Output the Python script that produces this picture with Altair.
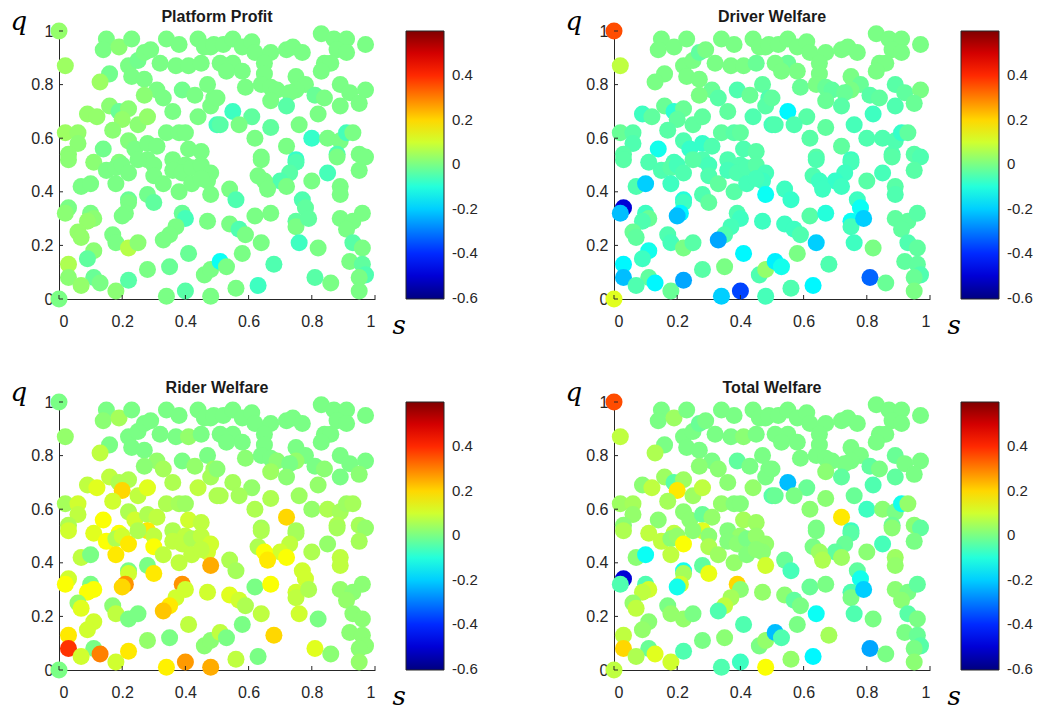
import altair as alt
import pandas as pd

s_vals = [
    0.00, 0.02, 0.15, 0.14, 0.19, 0.23, 0.16, 0.13, 0.22, 0.25,
    0.27, 0.29, 0.34, 0.38, 0.44, 0.48, 0.32, 0.37, 0.41, 0.45,
    0.23, 0.27, 0.31, 0.33, 0.27, 0.39, 0.43, 0.47, 0.49, 0.36,
    0.44, 0.48, 0.50, 0.09, 0.12, 0.16, 0.19, 0.22, 0.20, 0.17,
    0.25, 0.28, 0.02, 0.06, 0.06, 0.03, 0.14, 0.22, 0.24, 0.28,
    0.31, 0.34, 0.38, 0.40, 0.41, 0.45, 0.11, 0.19, 0.28, 0.30,
    0.36, 0.40, 0.83, 0.87, 0.91, 0.97, 0.88, 0.91, 0.46, 0.49,
    0.52, 0.55, 0.58, 0.61, 0.62, 0.67, 0.72, 0.74, 0.77, 0.65,
    0.65, 0.84, 0.86, 0.83, 0.55, 0.58, 0.51, 0.53, 0.59, 0.64,
    0.67, 0.69, 0.75, 0.78, 0.81, 0.75, 0.73, 0.84, 0.89, 0.92,
    0.97, 0.95, 0.89, 0.67, 0.72, 0.50, 0.55, 0.61, 0.51, 0.57,
    0.67, 0.76, 0.82, 0.62, 0.72, 0.80, 0.85, 0.89, 0.91, 0.93,
    0.64, 0.75, 0.88, 0.95, 0.97,
    0.03, 0.15, 0.18, 0.20, 0.22, 0.18, 0.25, 0.30, 0.33, 0.36,
    0.39, 0.42, 0.45, 0.48, 0.38, 0.42, 0.47, 0.48, 0.07, 0.10,
    0.03, 0.02, 0.10, 0.11, 0.09, 0.22, 0.22, 0.28, 0.30, 0.21,
    0.20, 0.39, 0.40, 0.47, 0.37, 0.35, 0.33, 0.06, 0.07, 0.17,
    0.18, 0.22, 0.25, 0.11, 0.09, 0.03, 0.41, 0.03, 0.11, 0.13,
    0.07, 0.18, 0.22, 0.28, 0.35, 0.34, 0.40, 0.46, 0.48, 0.48,
    0.00, 0.64, 0.75, 0.73, 0.70, 0.88,
    0.95, 0.85,
    0.45, 0.63, 0.65, 0.66, 0.72, 0.80, 0.89, 0.89, 0.54, 0.56, 0.77, 0.78,
    0.54, 0.57, 0.59, 0.62, 0.67, 0.75, 0.75, 0.79, 0.76, 0.64,
    0.82, 0.89, 0.93, 0.96, 0.91, 0.93, 0.96, 0.58, 0.51, 0.53,
    0.68, 0.92, 0.96, 0.97, 0.95, 0.95, 0.81, 0.86, 0.56, 0.63,
]

q_vals = [
    1.00, 0.87, 0.97, 0.93, 0.94, 0.97, 0.84, 0.81, 0.87, 0.89,
    0.92, 0.93, 0.97, 0.95, 0.97, 0.94, 0.88, 0.87, 0.87, 0.88,
    0.83, 0.82, 0.78, 0.75, 0.76, 0.78, 0.76, 0.80, 0.75, 0.70,
    0.68, 0.72, 0.65, 0.69, 0.68, 0.72, 0.70, 0.71, 0.67, 0.63,
    0.65, 0.68, 0.62, 0.62, 0.58, 0.54, 0.56, 0.59, 0.56, 0.58,
    0.57, 0.62, 0.62, 0.62, 0.56, 0.55, 0.51, 0.51, 0.52, 0.50,
    0.52, 0.50, 0.99, 0.97, 0.97, 0.95, 0.93, 0.92, 0.94, 0.95,
    0.95, 0.97, 0.94, 0.96, 0.92, 0.92, 0.93, 0.94, 0.92, 0.88,
    0.84, 0.88, 0.88, 0.85, 0.88, 0.85, 0.88, 0.85, 0.79, 0.80,
    0.79, 0.78, 0.83, 0.80, 0.76, 0.78, 0.77, 0.75, 0.80, 0.77,
    0.78, 0.73, 0.72, 0.74, 0.72, 0.75, 0.70, 0.68, 0.65, 0.65,
    0.64, 0.65, 0.69, 0.60, 0.57, 0.60, 0.60, 0.59, 0.62, 0.62,
    0.53, 0.52, 0.54, 0.54, 0.53,
    0.52, 0.48, 0.49, 0.50, 0.47, 0.43, 0.52, 0.46, 0.43, 0.48,
    0.47, 0.49, 0.50, 0.47, 0.40, 0.43, 0.44, 0.39, 0.42, 0.43,
    0.34, 0.32, 0.32, 0.30, 0.29, 0.37, 0.36, 0.39, 0.36, 0.32,
    0.31, 0.32, 0.30, 0.29, 0.27, 0.24, 0.22, 0.25, 0.23, 0.24,
    0.21, 0.19, 0.21, 0.18, 0.15, 0.13, 0.17, 0.08, 0.08, 0.06,
    0.05, 0.03, 0.07, 0.11, 0.12, 0.01, 0.03, 0.09, 0.11, 0.01,
    0.00, 0.52, 0.51, 0.47, 0.44, 0.53,
    0.48, 0.47,
    0.45, 0.46, 0.44, 0.41, 0.42, 0.44, 0.42, 0.39, 0.41, 0.37, 0.37, 0.34,
    0.28, 0.26, 0.24, 0.31, 0.32, 0.29, 0.27, 0.30, 0.21, 0.21,
    0.19, 0.30, 0.29, 0.32, 0.26, 0.21, 0.19, 0.17, 0.14, 0.12,
    0.13, 0.14, 0.13, 0.09, 0.08, 0.03, 0.08, 0.06, 0.04, 0.05,
]

platform_profit = [
    0.03, 0.04, 0, 0, 0.02, 0, -0.01, 0.04, 0, -0.01,
    0, 0, 0, 0, 0, 0, 0, 0, 0, 0,
    0, 0, 0, 0, 0.02, -0.01, 0, 0, 0, 0,
    0, 0, -0.06, 0.03, 0.03, 0.02, -0.02, 0.02, 0.03, 0.02,
    0.02, 0.03, 0.04, 0.03, 0.02, 0.02, -0.01, 0.01, 0, 0,
    0, 0, 0, 0, 0, 0, 0.02, 0.01, 0, 0,
    0, 0, 0, 0, 0, 0, 0, 0, 0, 0,
    0, 0, 0, 0, 0, 0, 0, 0, 0, 0,
    0, 0, 0, 0, 0, 0, 0, 0, 0, 0,
    0, 0, 0, 0, -0.02, 0, 0, 0, 0, 0,
    0, 0, 0, 0, -0.04, 0, -0.07, -0.03, -0.04, 0,
    -0.03, 0, 0, 0, 0, -0.08, 0, 0, -0.06, 0,
    0, -0.08, -0.05, 0, 0,
    0.02, 0, 0, 0, 0, 0, 0, 0, 0, 0,
    0, 0, 0, 0, 0, 0, 0, 0, 0, 0,
    0, 0.02, 0, 0.02, 0.03, -0.02, 0, -0.01, -0.03, 0,
    0, -0.02, -0.06, 0, 0, 0, 0, 0.03, 0.03, 0,
    0, 0.07, 0.02, 0.02, -0.03, 0.06, -0.02, 0.02, -0.02, 0,
    0.03, 0.02, -0.04, 0, -0.02, 0, -0.04, 0, 0, 0,
    0, 0, -0.05, -0.04, -0.05, 0,
    0, -0.06,
    0, 0, 0, 0, 0, 0, 0, 0, 0, -0.05, -0.05, -0.03,
    0, -0.05, 0, 0, 0, -0.03, 0, -0.03, -0.07, 0,
    0, 0, 0, 0, 0, -0.04, 0, 0, -0.13, 0,
    -0.05, 0, -0.03, -0.05, 0, 0, -0.04, 0, 0, -0.07,
]

driver_welfare = [
    0.36, 0.08, 0, 0, 0, 0, 0, 0, 0, 0,
    -0.03, 0, 0, 0, 0, 0, 0, 0, 0, -0.02,
    0, 0, -0.02, -0.04, 0, -0.05, -0.02, -0.03, -0.05, -0.03,
    -0.05, -0.04, -0.06, -0.07, -0.03, -0.02, -0.09, -0.02, -0.03, -0.04,
    -0.03, -0.03, -0.02, -0.04, -0.05, -0.04, -0.12, -0.05, -0.08, -0.08,
    -0.05, -0.03, -0.04, -0.03, -0.05, -0.04, -0.05, -0.06, -0.05, -0.06,
    -0.05, -0.05, 0, 0, 0, 0, 0, 0, 0, 0,
    0, 0, 0, 0, 0, 0, 0, 0, 0, 0,
    0, 0, 0, 0, -0.02, 0, 0, 0, -0.02, 0,
    -0.02, -0.03, 0, -0.02, -0.04, 0, -0.02, -0.03, -0.04, -0.03,
    0, -0.02, -0.05, -0.02, -0.04, -0.03, -0.15, -0.04, -0.05, -0.05,
    -0.03, -0.06, -0.07, -0.04, -0.03, -0.05, -0.05, -0.05, -0.08, -0.03,
    -0.04, -0.07, -0.05, -0.04, -0.05,
    -0.04, -0.05, -0.04, -0.06, -0.05, -0.07, -0.04, -0.05, -0.03, -0.06,
    -0.05, -0.05, -0.04, -0.06, -0.04, -0.06, -0.07, -0.13, -0.05, -0.2,
    -0.5, -0.22, -0.07, -0.02, -0.05, -0.1, -0.07, -0.05, -0.03, -0.15,
    -0.22, -0.05, -0.07, -0.07, -0.06, -0.05, -0.25, -0.02, -0.03, -0.05,
    -0.06, 0, -0.04, -0.12, -0.07, -0.15, -0.15, -0.22, -0.03, -0.15,
    -0.05, -0.02, -0.25, -0.04, 0, -0.2, -0.37, -0.05, 0.03, -0.06,
    0.12, -0.05, -0.06, -0.07, -0.08, -0.04,
    -0.04, -0.06,
    -0.06, -0.05, -0.07, -0.07, -0.07, -0.04, -0.04, -0.05, -0.07, -0.08, -0.07, -0.13,
    -0.07, -0.07, -0.05, -0.04, -0.1, -0.13, -0.06, -0.2, -0.07, -0.2,
    0, -0.03, -0.03, -0.04, -0.03, -0.05, -0.03, 0, -0.16, -0.12,
    -0.05, -0.03, -0.03, -0.05, -0.02, 0, -0.33, -0.02, -0.05, -0.15,
]

rider_welfare = [
    0, 0.03, 0, 0.02, 0.05, 0, 0, 0.08, 0, 0,
    0, 0, 0, 0, 0, 0, 0, 0, 0.03, 0,
    0, 0, 0.03, 0.05, 0.02, 0, 0.03, 0, 0.04, 0.06,
    0.08, 0.05, 0.06, 0.08, 0.12, 0.08, 0.06, 0.06, 0.2, 0.1,
    0.08, 0.12, 0.05, 0.1, 0.08, 0.06, 0.15, 0.06, 0.1, 0.06,
    0.08, 0.06, 0.05, 0.04, 0.1, 0.08, 0.12, 0.15, 0.18, 0.08,
    0.06, 0.08, 0, 0, 0, 0, 0, 0, 0, 0,
    0, 0, 0, 0, 0, 0, 0, 0, 0, 0,
    0, 0, 0, 0, 0, 0, 0, 0, 0.02, 0,
    0, 0.02, 0, 0, 0, 0.03, 0, 0.02, 0, 0,
    0, 0.02, 0, 0.04, 0.02, 0.02, 0.05, 0.03, 0.06, 0.05,
    0.06, 0.04, 0.03, 0.06, 0.2, 0.03, 0.06, 0.05, 0.04, 0.05,
    0.05, 0.05, 0.06, 0.05, 0.03,
    0.1, 0.15, 0.06, 0.1, 0.18, 0.18, 0.06, 0.15, 0.08, 0.08,
    0.08, 0.06, 0.08, 0.1, 0.08, 0.08, 0.1, 0.25, 0.08, 0,
    0.1, 0.15, 0, 0.15, 0.15, 0, 0.1, 0, 0.18, 0.28,
    0.2, 0.28, 0.1, 0.1, 0.1, 0.18, 0.22, 0.03, 0.12, 0.02,
    0.08, 0, 0, 0.1, 0.1, 0.18, 0.08, 0.39, 0, 0.3,
    0.1, 0.1, 0.18, 0.03, 0, 0.17, 0.27, 0.02, 0.02, 0.25,
    0, 0.06, 0.05, 0.08, 0.1, 0.05,
    0.05, 0.03,
    0.08, 0.06, 0.15, 0.18, 0.15, 0.06, 0.08, 0.08, 0.06, 0.05, 0.1, 0.1,
    0.12, 0.1, 0.06, 0, 0.15, 0.1, 0.08, 0.06, 0.1, 0.08,
    0, 0.03, 0.02, 0.02, 0.03, 0.02, 0.02, 0, 0.08, 0,
    0.2, 0.02, 0.02, 0.02, 0.02, 0.03, 0.12, 0.02, 0.08, 0,
]

total_welfare = [
    0.36, 0.08, 0, 0, 0.04, 0, 0, 0.06, 0, 0,
    -0.02, 0, 0, 0, 0, 0, 0, 0, 0.02, 0,
    0, 0, 0, 0.02, 0.02, -0.03, 0, 0, 0, 0.02,
    0.03, 0, -0.04, 0.02, 0.08, 0.04, -0.04, 0.04, 0.18, 0.05,
    0.04, 0.08, 0.04, 0.05, 0.03, 0.02, 0.02, 0.02, 0.02, -0.02,
    0.03, 0.03, 0.01, 0.01, 0.05, 0.04, 0.08, 0.08, 0.12, 0.02,
    0.01, 0.03, 0, 0, 0, 0, 0, 0, 0, 0,
    0, 0, 0, 0, 0, 0, 0, 0, 0, 0,
    0, 0, 0, 0, 0, 0, 0, 0, 0, 0,
    0, 0, 0, 0, -0.03, 0, 0, 0, -0.02, 0,
    0, 0, -0.03, 0.02, -0.03, 0, -0.22, -0.02, -0.02, 0,
    0.02, -0.02, -0.05, 0.02, 0.18, -0.07, 0.02, 0, -0.12, 0.03,
    0, -0.07, -0.02, 0.02, -0.03,
    0.06, 0.08, 0.02, 0.03, 0.15, 0.08, 0.02, 0.06, 0.04, 0.01,
    0.02, 0, 0.03, 0.03, 0.03, 0.01, 0.02, 0.1, 0.02, -0.13,
    -0.5, -0.05, -0.05, 0.1, 0.08, -0.12, 0.05, -0.03, 0.13, 0.1,
    -0.12, 0.2, 0.02, 0.03, 0.05, 0.08, -0.05, 0.03, 0.08, 0,
    0.03, 0.03, 0, 0.02, 0.03, 0.08, -0.05, 0.2, -0.02, 0.12,
    0.06, 0.1, -0.05, 0, 0.02, -0.05, -0.07, 0, 0.03, 0.15,
    0.08, 0, -0.04, -0.02, -0.03, 0.02,
    0, -0.06,
    0.02, 0, 0.04, 0.06, 0.04, 0.02, 0.04, 0.03, -0.02, -0.06, -0.03, -0.12,
    0.02, -0.03, 0, -0.02, 0, -0.05, 0, -0.2, -0.05, -0.13,
    0, 0.02, 0, -0.03, 0.02, -0.04, 0, 0, -0.22, -0.05,
    0.05, 0, -0.02, -0.04, 0, 0.02, -0.25, 0, 0.03, -0.15,
]

tick_vals = [0, 0.2, 0.4, 0.6, 0.8, 1.0]
cbar_vals = [-0.6, -0.4, -0.2, 0, 0.2, 0.4]
color_domain = [-0.605, -0.4506, -0.1419, 0.1544, 0.4475, 0.6]
jet_colors = ["#000080", "#0000ff", "#00ffff", "#ffff00", "#ff0000", "#800000"]

n = min(len(s_vals), len(q_vals), len(platform_profit), len(driver_welfare),
        len(rider_welfare), len(total_welfare))
df = pd.DataFrame({
    "s": s_vals[:n], "q": q_vals[:n],
    "pp": platform_profit[:n], "dw": driver_welfare[:n],
    "rw": rider_welfare[:n], "tw": total_welfare[:n],
})
ticks_df = pd.DataFrame({"v": tick_vals})

W, H = 316, 268
AXC = "#262626"
FONT = "Liberation Sans"
num_expr = "datum.value == 0 ? '0' : datum.value == 1 ? '1' : (datum.value < 0 ? '-' + format(-datum.value, '.1f') : format(datum.value, '.1f'))"


def panel(field, title):
    xs = alt.Scale(domain=[0, 1], nice=False, zero=False)
    ys = alt.Scale(domain=[0, 1], nice=False, zero=False)
    pts = alt.Chart(df).mark_circle(size=290, opacity=1).encode(
        x=alt.X("s:Q", scale=xs, axis=alt.Axis(
            values=tick_vals, labelExpr=num_expr, tickSize=0, labelPadding=14,
            grid=False, domainColor=AXC, labelColor=AXC, labelFontSize=16,
            labelFont=FONT, title="s", titleFont="DejaVu Serif",
            titleFontStyle="italic", titleFontWeight="normal", titleFontSize=26,
            titleColor="#000000", titleAngle=0, titleAlign="left",
            titleBaseline="alphabetic", titleX=333, titleY=34)),
        y=alt.Y("q:Q", scale=ys, axis=alt.Axis(
            values=tick_vals, labelExpr=num_expr, tickSize=0, labelPadding=6,
            grid=False, domainColor=AXC, labelColor=AXC, labelFontSize=16,
            labelFont=FONT, title="q", titleFont="DejaVu Serif",
            titleFontStyle="italic", titleFontWeight="normal", titleFontSize=26,
            titleColor="#000000", titleAngle=0, titleAlign="left",
            titleBaseline="alphabetic", titleX=-49, titleY=-2)),
        color=alt.Color(f"{field}:Q", scale=alt.Scale(
            domain=color_domain, range=jet_colors, interpolate="rgb"),
            legend=alt.Legend(
                orient="none", legendX=347, legendY=0, direction="vertical",
                gradientLength=H, gradientThickness=38, values=cbar_vals,
                labelExpr=num_expr, labelFontSize=15, labelFont=FONT,
                labelColor=AXC, labelOffset=8, labelOverlap=False,
                labelBaseline="middle",
                gradientStrokeColor=AXC, gradientStrokeWidth=1, title=None)),
    )
    xt = alt.Chart(ticks_df).mark_rule(color=AXC, strokeWidth=1).encode(
        x=alt.X("v:Q", scale=xs), y=alt.value(H), y2=alt.value(H - 4))
    yt = alt.Chart(ticks_df).mark_rule(color=AXC, strokeWidth=1).encode(
        y=alt.Y("v:Q", scale=ys), x=alt.value(0), x2=alt.value(4))
    return alt.layer(pts, xt, yt).properties(
        width=W, height=H,
        title=alt.TitleParams(title, fontSize=16, fontWeight="bold", font=FONT,
                              color="#1a1a1a", offset=-17, anchor="middle"))


row1 = alt.hconcat(panel("pp", "Platform Profit"), panel("dw", "Driver Welfare"),
                   spacing=239, bounds="flush").resolve_scale(color="independent")
row2 = alt.hconcat(panel("rw", "Rider Welfare"), panel("tw", "Total Welfare"),
                   spacing=239, bounds="flush").resolve_scale(color="independent")
chart = alt.vconcat(row1, row2, spacing=371, bounds="flush").resolve_scale(
    color="independent"
).properties(
    padding={"left": 10, "top": 8, "right": 5, "bottom": 5},
    background="white",
).configure_view(stroke=None)

chart.save("out.html", embed_options={"renderer": "svg", "actions": False})
